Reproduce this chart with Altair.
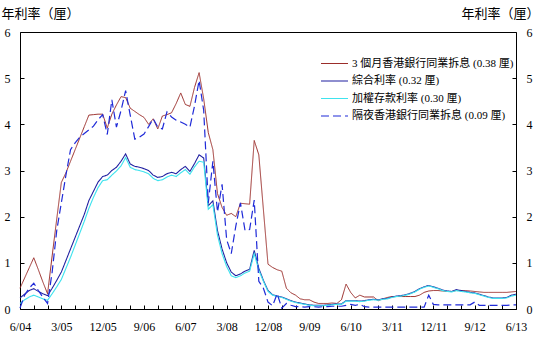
import altair as alt
import pandas as pd

# month index 0 = Jun 2004 ... 108 = Jun 2013
SERIES = ["3 個月香港銀行同業拆息 (0.38 厘)", "綜合利率 (0.32 厘)",
          "加權存款利率 (0.30 厘)", "隔夜香港銀行同業拆息 (0.09 厘)"]
COLORS = ["#9b2d2a", "#1f1fa0", "#3fe3ee", "#1f2ad8"]

HIBOR_3M = [0.45, 0.67, 0.89, 1.11, 0.85, 0.58, 0.33, 1.15, 1.95, 2.74,
            2.95, 3.2, 3.45, 3.7, 3.95, 4.2, 4.21, 4.22, 4.22, 3.92,
            4.22, 4.42, 4.6, 4.58, 4.35, 4.28, 4.21, 4.15, 4.0, 4.12,
            3.9, 4.18, 4.21, 4.25, 4.45, 4.68, 4.43, 4.39, 4.8, 5.12,
            4.55, 3.82, 3.45, 2.5, 2.2, 2.03, 2.07, 2.0, 2.29, 2.28,
            2.27, 3.65, 3.34, 2.15, 0.97, 0.9, 0.85, 0.82, 0.45, 0.35,
            0.3, 0.22, 0.2, 0.2, 0.15, 0.12, 0.12, 0.12, 0.13, 0.12,
            0.2, 0.54, 0.36, 0.24, 0.3, 0.26, 0.26, 0.26, 0.18, 0.22,
            0.25, 0.27, 0.27, 0.27, 0.27, 0.27, 0.27, 0.3, 0.36, 0.39,
            0.4, 0.4, 0.39, 0.38, 0.38, 0.4, 0.4, 0.4, 0.39, 0.38,
            0.37, 0.36, 0.36, 0.36, 0.36, 0.36, 0.36, 0.37, 0.38]

COMPOSITE = [0.24, 0.32, 0.4, 0.44, 0.38, 0.33, 0.29, 0.45, 0.62, 0.8,
             1.05, 1.3, 1.55, 1.8, 2.05, 2.35, 2.55, 2.75, 2.87, 2.9,
             3.0, 3.07, 3.2, 3.36, 3.14, 3.09, 3.07, 3.04, 3.0, 2.9,
             2.85, 2.87, 2.93, 2.96, 2.93, 3.02, 3.09, 2.98, 3.15, 3.34,
             3.27, 2.24, 2.34, 1.7, 1.3, 1.0, 0.8, 0.72, 0.76, 0.82,
             0.86, 1.27, 0.88, 0.62, 0.4, 0.31, 0.28, 0.26, 0.22, 0.18,
             0.15, 0.13, 0.11, 0.09, 0.08, 0.08, 0.08, 0.09, 0.1, 0.11,
             0.11, 0.18, 0.18, 0.18, 0.17, 0.18, 0.2, 0.21, 0.2, 0.22,
             0.23, 0.26, 0.28, 0.29, 0.31, 0.34, 0.38, 0.44, 0.48, 0.51,
             0.48, 0.45, 0.41, 0.39, 0.38, 0.42, 0.4, 0.38, 0.36, 0.35,
             0.32, 0.29, 0.26, 0.24, 0.24, 0.24, 0.25, 0.3, 0.32]

DEPOSIT = [0.12, 0.2, 0.26, 0.3, 0.26, 0.22, 0.19, 0.33, 0.48, 0.64,
           0.88, 1.12, 1.38, 1.64, 1.9, 2.18, 2.42, 2.63, 2.78, 2.8,
           2.9, 2.99, 3.1, 3.28, 3.07, 3.02, 3.0, 2.97, 2.93, 2.83,
           2.78, 2.8, 2.86, 2.9, 2.87, 2.95, 3.02, 2.92, 3.08, 3.2,
           3.18, 2.16, 2.26, 1.6, 1.2, 0.92, 0.72, 0.68, 0.72, 0.78,
           0.82, 1.2, 0.84, 0.6, 0.38, 0.3, 0.27, 0.25, 0.21, 0.17,
           0.14, 0.12, 0.1, 0.08, 0.07, 0.07, 0.07, 0.08, 0.09, 0.1,
           0.1, 0.17, 0.17, 0.17, 0.16, 0.17, 0.19, 0.2, 0.19, 0.21,
           0.22, 0.25, 0.27, 0.28, 0.3, 0.33, 0.37, 0.43, 0.47, 0.5,
           0.47, 0.44, 0.4, 0.38, 0.37, 0.4, 0.38, 0.37, 0.35, 0.34,
           0.31, 0.28, 0.25, 0.23, 0.23, 0.23, 0.24, 0.28, 0.3]

HIBOR_ON = [0.02, 0.3, 0.45, 0.56, 0.4, 0.25, 0.12, 0.8, 1.7, 2.3,
            2.9, 3.45, 3.6, 3.72, 3.8, 3.88, 3.96, 4.1, 4.21, 3.78,
            4.53, 3.94, 4.3, 4.73, 4.2, 3.68, 3.72, 3.79, 3.95, 4.12,
            3.94, 3.9, 4.27, 4.16, 4.09, 4.05, 4.0, 3.94, 4.4, 4.95,
            4.3, 2.3, 3.2, 2.1, 2.7, 1.5, 1.2, 1.8, 2.3, 1.7,
            1.72, 2.36, 0.6, 0.45, 0.15, 0.07, 0.33, 0.02, 0.12, 0.08,
            0.05, 0.05, 0.04, 0.05, 0.05, 0.04, 0.05, 0.05, 0.06, 0.06,
            0.06, 0.08, 0.1, 0.08, 0.1, 0.05, 0.04, 0.04, 0.04, 0.04,
            0.04, 0.04, 0.04, 0.04, 0.04, 0.04, 0.04, 0.04, 0.04, 0.3,
            0.1, 0.09, 0.09, 0.09, 0.09, 0.09, 0.09, 0.09, 0.09, 0.15,
            0.08, 0.08, 0.08, 0.08, 0.08, 0.08, 0.08, 0.09, 0.09]

X_LABELS = ["6/04", "3/05", "12/05", "9/06", "6/07", "3/08", "12/08",
            "9/09", "6/10", "3/11", "12/11", "9/12", "6/13"]
X_LABEL_POS = list(range(0, 109, 9))
X_TICKS = list(range(0, 109, 3))
Y_TICKS = [0, 1, 2, 3, 4, 5, 6]
Y_TITLE = "年利率（厘）"

rows = []
for name, vals in zip(SERIES, [HIBOR_3M, COMPOSITE, DEPOSIT, HIBOR_ON]):
    for i, v in enumerate(vals):
        rows.append({"t": i, "v": v, "s": name})
df = pd.DataFrame(rows)

label_expr = ""
for p, lab in zip(X_LABEL_POS, X_LABELS):
    label_expr += f"datum.value == {p} ? '{lab}' : "
label_expr += "''"

FONT_NUM = "Liberation Serif"
FONT_CJK = "Noto Sans CJK TC"

xscale = alt.Scale(domain=[0, 108], nice=False, zero=False)
xaxis = alt.Axis(values=X_TICKS, labelExpr=label_expr, title=None,
                 grid=False, domain=False, tickSize=4, offset=-4,
                 tickColor="black", labelColor="black",
                 labelFont=FONT_NUM, labelFontSize=12,
                 labelPadding=12, labelFlush=False, labelOverlap=False)

yscale = alt.Scale(domain=[0, 6], nice=False)


def yaxis(orient, tx, align):
    return alt.Axis(values=Y_TICKS, orient=orient, title=Y_TITLE,
                    titleAngle=0, titleX=tx, titleY=-15,
                    titleAlign=align, titleBaseline="alphabetic",
                    titleFont=FONT_CJK, titleFontSize=13,
                    titleFontWeight="normal", titleColor="black",
                    grid=False, domain=False, tickSize=4, offset=-4,
                    tickColor="black", labelColor="black",
                    labelFont=FONT_NUM, labelFontSize=12, labelPadding=10)


lines = alt.Chart(df).mark_line().encode(
    x=alt.X("t:Q", scale=xscale, axis=xaxis),
    y=alt.Y("v:Q", scale=yscale, axis=yaxis("left", -23, "left")),
    color=alt.Color("s:N", scale=alt.Scale(domain=SERIES, range=COLORS),
                    legend=alt.Legend(title=None, orient="none",
                                      legendX=300, legendY=24.5,
                                      symbolType="stroke", symbolSize=729,
                                      clipHeight=14,
                                      labelFont=f"{FONT_NUM}, {FONT_CJK}",
                                      labelFontSize=11, labelColor="black",
                                      rowPadding=3.5, labelOffset=3,
                                      labelLimit=300)),
    strokeDash=alt.StrokeDash("s:N", scale=alt.Scale(
        domain=SERIES, range=[[1, 0], [1, 0], [1, 0], [8, 4]])),
    strokeWidth=alt.StrokeWidth("s:N", scale=alt.Scale(
        domain=SERIES, range=[1, 1.2, 1.5, 2])),
    order=alt.Order("t:Q"),
)

right = alt.Chart(df).mark_line(strokeOpacity=0).encode(
    x=alt.X("t:Q", scale=xscale, axis=xaxis),
    y=alt.Y("v:Q", scale=yscale, axis=yaxis("right", 27, "right")),
    detail="s:N",
)

chart = alt.layer(lines, right).resolve_scale(y="independent").properties(
    width=496, height=277,
    padding={"left": 20, "top": 32, "right": 24, "bottom": 30},
    autosize=alt.AutoSizeParams(type="none"),
    background="white",
).configure_view(stroke="black", strokeWidth=1)

chart.save("out.html", embed_options={"renderer": "svg", "actions": False})
